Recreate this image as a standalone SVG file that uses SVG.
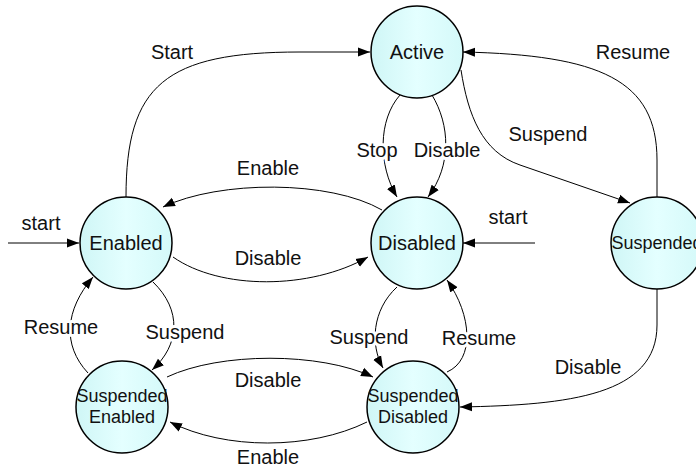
<svg xmlns="http://www.w3.org/2000/svg" width="696" height="468" viewBox="0 0 696 468">
<defs>
<linearGradient id="fillG" x1="0" y1="0" x2="1" y2="0">
<stop offset="0" stop-color="#cff6f6"/>
<stop offset="0.5" stop-color="#e4ffff"/>
<stop offset="1" stop-color="#d4f9f9"/>
</linearGradient>
<marker id="arr" markerWidth="13" markerHeight="10" refX="12" refY="5" orient="auto" markerUnits="userSpaceOnUse">
<path d="M0,0.5 L12,5 L0,9.5 z" fill="#000"/>
</marker>
<style>
.node circle{fill:url(#fillG);stroke:#000;stroke-width:1.5}
.node text{font-family:"Liberation Sans",Arial,sans-serif;font-size:20px;fill:#111;text-anchor:middle}
.node text.sm{font-size:18px}
.edges path{fill:none;stroke:#000;stroke-width:1;marker-end:url(#arr)}
.lbl text{font-family:"Liberation Sans",Arial,sans-serif;font-size:20px;fill:#111;text-anchor:middle;stroke:#fff;stroke-width:6;paint-order:stroke;stroke-linejoin:round}
</style>
</defs>
<rect width="696" height="468" fill="#fff"/>
<g id="connectors" class="edges">
<path d="M8,243 L79,243"/>
<path d="M535,243 L463,243"/>
<path d="M126,197 C126,85 165,52 300,52 L370,52"/>
<path d="M382,210 C330,180 220,180 163,207"/>
<path d="M173,257 C220,290 310,290 368,257"/>
<path d="M400,95 C378,120 378,165 397,197"/>
<path d="M432,95 C450,125 452,165 428,197"/>
<path d="M461,70 C468,115 482,152 520,165 L630,203"/>
<path d="M657,197 L657,160 C657,80 600,55 463,52"/>
<path d="M88,373 C62,345 65,310 93,277"/>
<path d="M153,282 C182,310 180,345 152,370"/>
<path d="M167,377 C220,352 320,352 373,377"/>
<path d="M367,422 C310,450 225,450 170,422"/>
<path d="M397,287 C372,310 370,345 383,368"/>
<path d="M447,372 C475,360 472,315 447,280"/>
<path d="M657,289 L657,325 C657,395 570,405 460,407"/>
</g>
<g id="labels" class="lbl">
<text x="172" y="59">Start</text>
<text x="268" y="175">Enable</text>
<text x="41" y="230">start</text>
<text x="268" y="265">Disable</text>
<text x="377" y="157">Stop</text>
<text x="447" y="157">Disable</text>
<text x="548" y="141">Suspend</text>
<text x="633" y="59">Resume</text>
<text x="508" y="224">start</text>
<text x="61" y="334">Resume</text>
<text x="185" y="339">Suspend</text>
<text x="369" y="344">Suspend</text>
<text x="479" y="345">Resume</text>
<text x="268" y="387">Disable</text>
<text x="268" y="464">Enable</text>
<text x="588" y="374">Disable</text>
</g>
<g id="active" class="node"><circle cx="417" cy="52" r="46"/><text x="417" y="59">Active</text></g>
<g id="enabled" class="node"><circle cx="126" cy="243" r="46"/><text x="126" y="250">Enabled</text></g>
<g id="disabled" class="node"><circle cx="417" cy="243" r="46"/><text x="417" y="250">Disabled</text></g>
<g id="suspended" class="node"><circle cx="657" cy="243" r="46"/><text class="sm" x="657" y="249">Suspended</text></g>
<g id="suspended-enabled" class="node"><circle cx="122" cy="407" r="46"/><text class="sm" x="122" y="402">Suspended</text><text class="sm" x="122" y="423">Enabled</text></g>
<g id="suspended-disabled" class="node"><circle cx="413" cy="407" r="46"/><text class="sm" x="413" y="402">Suspended</text><text class="sm" x="413" y="423">Disabled</text></g>
</svg>
